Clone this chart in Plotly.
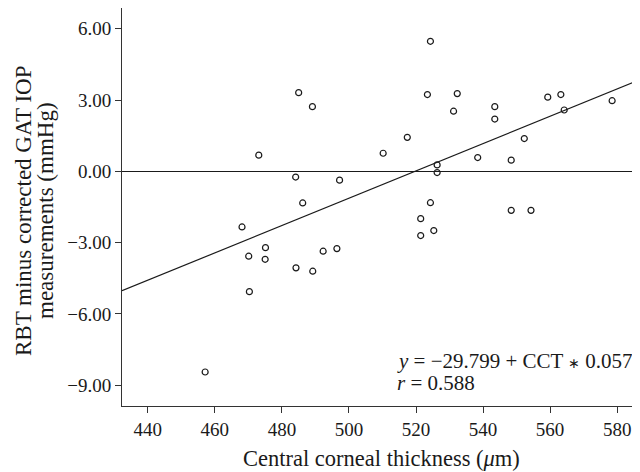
import plotly.graph_objects as go

cct = [485.0, 489.1, 473.1, 484.1, 497.2,
       524.3, 523.4, 532.3, 531.2, 517.4, 510.2, 543.5, 543.5, 559.3, 563.2, 564.2,
       578.5, 552.3, 538.4, 548.4, 526.3, 526.3,
       486.2, 468.1, 475.1, 470.1, 475.0, 484.2, 489.2, 492.3, 496.4, 470.3, 457.1,
       524.3, 521.4, 521.4, 525.3, 548.4, 554.3]
diff = [3.31, 2.72, 0.68, -0.24, -0.37,
        5.47, 3.23, 3.27, 2.53, 1.43, 0.76, 2.72, 2.20, 3.12, 3.23, 2.58,
        2.97, 1.38, 0.58, 0.47, 0.27, -0.05,
        -1.33, -2.34, -3.21, -3.57, -3.70, -4.06, -4.20, -3.36, -3.25, -5.06, -8.44,
        -1.32, -1.99, -2.70, -2.49, -1.64, -1.64]

x_ticks = [440, 460, 480, 500, 520, 540, 560, 580]
y_ticks = [6, 3, 0, -3, -6, -9]
y_tick_labels = ["6.00", "3.00", "0.00", "\u22123.00", "\u22126.00", "\u22129.00"]

intercept = -29.88
slope = 0.0575
x_range = [432.3, 589.2]
y_range = [-9.87, 6.87]

font_family = "Liberation Serif"
ink = "#1a1a1a"

fig = go.Figure()
fig.add_trace(go.Scatter(
    x=x_range, y=[intercept + slope * v for v in x_range],
    mode="lines", line=dict(color=ink, width=1.2), showlegend=False,
    hoverinfo="skip"))
fig.add_trace(go.Scatter(
    x=cct, y=diff, mode="markers",
    marker=dict(symbol="circle-open", size=6, color=ink,
                line=dict(width=1.2, color=ink)),
    showlegend=False))

star = '<span style="font-family:DejaVu Sans;font-size:14px">\u2217</span>'
fig.add_annotation(
    x=0.519, y=0.112, xref="paper", yref="paper", xanchor="left", yanchor="middle",
    text="<i>y</i> = \u221229.799 + CCT " + star + " 0.057",
    showarrow=False, font=dict(family=font_family, size=21, color=ink))
fig.add_annotation(
    x=0.519, y=0.058, xref="paper", yref="paper", xanchor="left", yanchor="middle",
    text="<i>r</i> = 0.588",
    showarrow=False, font=dict(family=font_family, size=21, color=ink))

fig.add_annotation(
    x=0, y=0.49, xref="paper", yref="paper", xanchor="center", yanchor="middle",
    xshift=-98, textangle=-90, showarrow=False,
    text="RBT minus corrected GAT IOP",
    font=dict(family=font_family, size=23, color=ink))
fig.add_annotation(
    x=0, y=0.49, xref="paper", yref="paper", xanchor="center", yanchor="middle",
    xshift=-76, textangle=-90, showarrow=False,
    text="measurements (mmHg)",
    font=dict(family=font_family, size=23, color=ink))

fig.add_annotation(
    x=0.494, y=0, xref="paper", yref="paper", xanchor="center", yanchor="middle",
    yshift=-52, showarrow=False,
    text="Central corneal thickness (<i>\u03bc</i>m)",
    font=dict(family=font_family, size=22.5, color=ink))

fig.update_layout(
    width=640, height=472,
    margin=dict(l=114, r=0, t=0, b=74, autoexpand=False),
    paper_bgcolor="white", plot_bgcolor="white",
    font=dict(family=font_family, size=19, color=ink),
    xaxis=dict(
        range=x_range, tickvals=x_ticks, ticks="outside", ticklen=6,
        tickcolor="#333333", showline=True, linecolor="#333333", linewidth=1,
        mirror=True, showgrid=False, zeroline=False, automargin=False,
        tickfont=dict(size=19)),
    yaxis=dict(
        range=y_range, tickvals=y_ticks, ticktext=y_tick_labels,
        ticks="outside", ticklen=6, tickcolor="#333333",
        showline=True, linecolor="#333333", linewidth=1, mirror=False,
        showgrid=False, zeroline=True, zerolinecolor=ink, zerolinewidth=1,
        automargin=False, tickfont=dict(size=19)),
)

fig.write_html("out.html")
